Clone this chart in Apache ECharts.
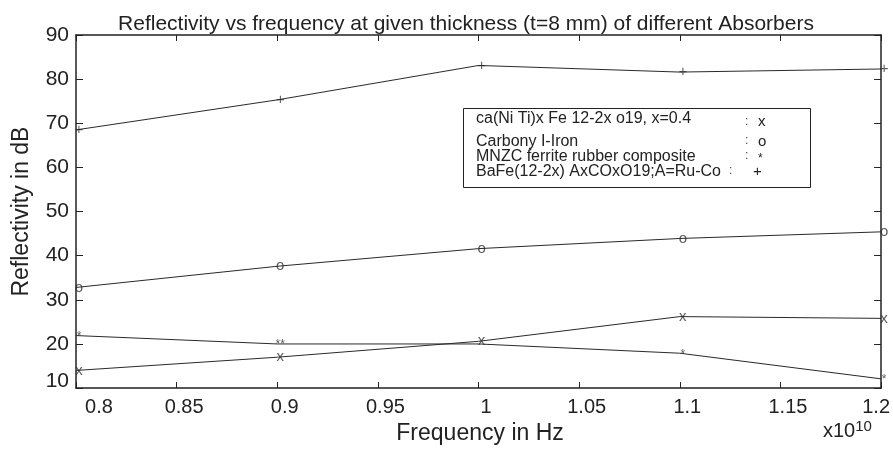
<!DOCTYPE html>
<html><head><meta charset="utf-8">
<script src="https://cdn.jsdelivr.net/npm/echarts@6/dist/echarts.min.js"></script>
<style>html,body{margin:0;padding:0;background:#fff}#c{width:893px;height:450px}</style>
</head><body><div id="c"></div>
<script>
// ---- data ----
const frequencies = [0.8, 0.9, 1.0, 1.1, 1.2];          // x 1e10 Hz
const caNiTi   = [14.0, 17.0, 20.6, 26.2, 25.8];
const carbonyl = [32.8, 37.6, 41.6, 43.9, 45.4];
const mnzc     = [21.9, 20.0, 20.0, 17.9, 12.1];
const bafe     = [68.5, 75.3, 83.1, 81.6, 82.3];
const seriesNames = [
  'ca(Ni Ti)x Fe 12-2x o19, x=0.4',
  'Carbony I-Iron',
  'MNZC ferrite rubber composite',
  'BaFe(12-2x) AxCOxO19;A=Ru-Co'
];
const markerGlyphs = ['x', 'o', '*', '+'];
const mnzcGlyphs = ['*', '**', '', '*', '*'];
const titleText = 'Reflectivity vs frequency at given thickness (t=8 mm) of different Absorbers';
const xName = 'Frequency in Hz';
const yName = 'Reflectivity in dB';

const FONT = '"Liberation Sans", Arial, sans-serif';
const INK = '#222';
const chart = echarts.init(document.getElementById('c'), null, {renderer: 'canvas'});

const allValues = [caNiTi, carbonyl, mnzc, bafe];
const series = [];
allValues.forEach((vals, si) => {
  const pts = frequencies.map((f, i) => [f, vals[i]]);
  const star = markerGlyphs[si] === '*';
  series.push({
    type: 'line', name: seriesNames[si], data: pts,
    symbol: 'none', silent: true, animation: false,
    lineStyle: {color: '#2a2a2a', width: 1}
  });
  series.push({
    type: 'scatter', data: pts, symbolSize: 1, silent: true, animation: false,
    itemStyle: {color: 'rgba(0,0,0,0)'},
    label: {
      show: true, position: 'inside', offset: [3, star ? 1 : 0],
      fontFamily: FONT, fontSize: star ? 12 : 15, color: '#333',
      formatter: p => si === 2 ? mnzcGlyphs[p.dataIndex] : markerGlyphs[si]
    }
  });
});

const near = (a, b) => Math.abs(a - b) < 1e-6;
const axisLineStyle = {color: INK, width: 1.5};

const option = {
  animation: false,
  backgroundColor: '#fff',
  title: {
    text: titleText, left: 461, top: 9, textAlign: 'center',
    textStyle: {fontFamily: FONT, fontSize: 21, fontWeight: 'normal', color: INK}
  },
  grid: {left: 76, right: 10, top: 35, bottom: 60.5, containLabel: false},
  xAxis: [{
    type: 'value', min: 0.8, max: 1.2, interval: 0.05, position: 'bottom',
    name: xName, nameLocation: 'middle', nameGap: 33,
    nameTextStyle: {fontFamily: FONT, fontSize: 23, color: INK, padding: [0, 0, 0, 3]},
    axisLine: {show: true, onZero: false, lineStyle: axisLineStyle},
    axisTick: {show: true, inside: true, length: 6, lineStyle: {color: INK}},
    splitLine: {show: false},
    axisLabel: {
      margin: 9, fontFamily: FONT, fontSize: 20, color: INK,
      formatter: v => {
        const s = String(+v.toFixed(2));
        if (near(v, 0.8)) return '{a|' + s + '}';
        if (near(v, 1.2)) return '{c|' + s + '}';
        return '{b|' + s + '}';
      },
      rich: {
        a: {fontFamily: FONT, fontSize: 20, color: INK, padding: [0, 0, 0, 46]},
        b: {fontFamily: FONT, fontSize: 20, color: INK, padding: [0, 0, 0, 15]},
        c: {fontFamily: FONT, fontSize: 20, color: INK, padding: [0, 10, 0, 0]}
      }
    }
  }, {
    type: 'value', min: 0.8, max: 1.2, interval: 0.05, position: 'top',
    axisLine: {show: true, onZero: false, lineStyle: axisLineStyle},
    axisTick: {show: true, inside: true, length: 6, lineStyle: {color: INK}},
    axisLabel: {show: false}, splitLine: {show: false}
  }],
  yAxis: [{
    type: 'value', min: 10, max: 90, interval: 10, position: 'left',
    name: yName, nameLocation: 'middle', nameGap: 43, nameRotate: 90,
    nameTextStyle: {fontFamily: FONT, fontSize: 23, color: INK},
    axisLine: {show: true, onZero: false, lineStyle: axisLineStyle},
    axisTick: {show: true, inside: true, length: 7, lineStyle: {color: INK}},
    splitLine: {show: false},
    axisLabel: {
      margin: 7, fontFamily: FONT, fontSize: 21, color: INK,
      formatter: v => v === 10 ? '{b|10}' : String(v),
      rich: {b: {fontFamily: FONT, fontSize: 21, color: INK, padding: [0, 0, 14, 0]}}
    }
  }, {
    type: 'value', min: 10, max: 90, interval: 10, position: 'right',
    axisLine: {show: true, onZero: false, lineStyle: axisLineStyle},
    axisTick: {show: true, inside: true, length: 7, lineStyle: {color: INK}},
    axisLabel: {show: false}, splitLine: {show: false}
  }],
  series: series,
  graphic: [
    {type: 'rect', left: 463, top: 108, shape: {width: 347, height: 79},
     style: {fill: '#fff', stroke: INK, lineWidth: 1}, z: 100},
    ...seriesNames.map((n, i) => ({
      type: 'text', left: 476, top: [111, 134, 149, 164][i], z: 101,
      style: {text: n, font: '16px ' + FONT, fill: INK}
    })),
    ...markerGlyphs.map((g, i) => ({
      type: 'text', left: i === 3 ? 729 : 745, top: [116, 135, 150, 165][i], z: 101,
      style: {text: ':', font: '12px ' + FONT, fill: '#444'}
    })),
    ...markerGlyphs.map((g, i) => ({
      type: 'text', left: i === 3 ? 753 : 758, top: [114, 134, 153, 164][i], z: 101,
      style: {text: g, font: (g === '*' ? '12px ' : '15px ') + FONT, fill: INK}
    })),
    {type: 'text', left: 823, top: 419, z: 101,
     style: {text: '{a|x10}{s|10}', font: '20px ' + FONT, fill: INK,
       rich: {a: {font: '20px ' + FONT, fill: INK, verticalAlign: 'bottom'},
              s: {font: '15px ' + FONT, fill: INK, verticalAlign: 'top', padding: [0, 0, 7, 0]}}}}
  ]
};
chart.setOption(option);
</script>
</body></html>
